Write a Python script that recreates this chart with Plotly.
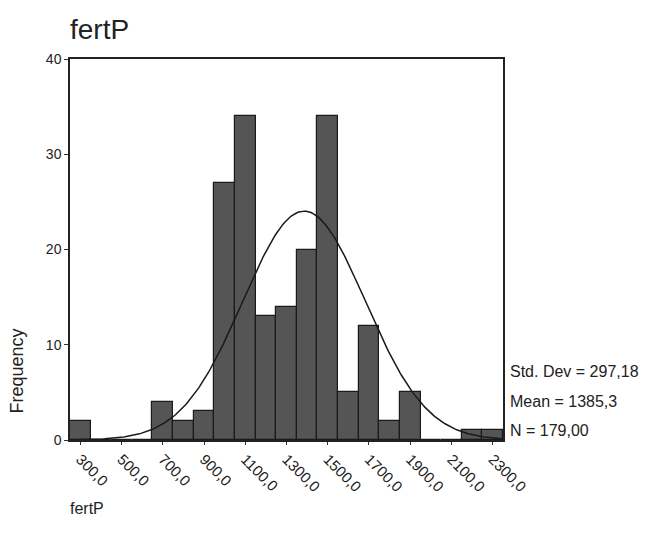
import numpy as np
import plotly.graph_objects as go

bin_centers = [300, 400, 500, 600, 700, 800, 900, 1000, 1100, 1200, 1300,
               1400, 1500, 1600, 1700, 1800, 1900, 2000, 2100, 2200, 2300]
counts = [2, 0, 0, 0, 4, 2, 3, 27, 34, 13, 14, 20, 34, 5, 12, 2, 5, 0, 0, 1, 1]
tick_vals = [300, 500, 700, 900, 1100, 1300, 1500, 1700, 1900, 2100, 2300]
tick_text = ["300,0", "500,0", "700,0", "900,0", "1100,0", "1300,0", "1500,0",
             "1700,0", "1900,0", "2100,0", "2300,0"]
std_dev = 297.18
mean = 1385.3
n = 179
bin_width = 100

xs = np.linspace(250, 2350, 300)
ys = n * bin_width / (std_dev * np.sqrt(2 * np.pi)) * np.exp(-0.5 * ((xs - mean) / std_dev) ** 2)

fig = go.Figure()
fig.add_trace(go.Bar(x=bin_centers, y=counts, width=bin_width,
                     marker=dict(color="#555555", line=dict(color="#1a1a1a", width=1.2)),
                     showlegend=False))
fig.add_trace(go.Scatter(x=xs, y=ys, mode="lines",
                         line=dict(color="#1a1a1a", width=1.5), showlegend=False))

font = "Liberation Sans, Arial, sans-serif"
fig.update_layout(
    width=645, height=540,
    margin=dict(l=70, r=142, t=59, b=100),
    paper_bgcolor="white", plot_bgcolor="white",
    bargap=0,
    font=dict(family=font, size=14, color="#222"),
    xaxis=dict(range=[250, 2350], tickvals=tick_vals, ticktext=tick_text,
               tickangle=45, ticks="outside", ticklen=3, tickcolor="#333",
               showline=True, linecolor="#222", linewidth=1.5, mirror=True,
               showgrid=False, zeroline=False, tickfont=dict(size=15)),
    yaxis=dict(range=[0, 40], tickvals=[0, 10, 20, 30, 40],
               ticks="outside", ticklen=4, tickcolor="#333",
               showline=True, linecolor="#222", linewidth=1.5, mirror=True,
               showgrid=False, zeroline=False, tickfont=dict(size=14)),
    annotations=[
        dict(text="fertP", xref="paper", yref="paper", x=-0.0, y=1.0,
             xanchor="left", yanchor="bottom", yshift=12, xshift=-2, showarrow=False,
             font=dict(size=28, family=font, color="#222")),
        dict(text="Frequency", xref="paper", yref="paper", x=0, y=0.18,
             xshift=-53, xanchor="center", yanchor="middle", textangle=-90,
             showarrow=False, font=dict(size=18, family=font, color="#222")),
        dict(text="fertP", xref="paper", yref="paper", x=0, y=0,
             xanchor="left", yanchor="middle", xshift=-2, yshift=-68,
             showarrow=False, font=dict(size=16, family=font, color="#222")),
        dict(text="Std. Dev = 297,18", xref="paper", yref="paper", x=1, y=0.179,
             xanchor="left", yanchor="middle", xshift=5, showarrow=False,
             font=dict(size=16, family=font, color="#222")),
        dict(text="Mean = 1385,3", xref="paper", yref="paper", x=1, y=0.102,
             xanchor="left", yanchor="middle", xshift=5, showarrow=False,
             font=dict(size=16, family=font, color="#222")),
        dict(text="N = 179,00", xref="paper", yref="paper", x=1, y=0.026,
             xanchor="left", yanchor="middle", xshift=5, showarrow=False,
             font=dict(size=16, family=font, color="#222")),
    ],
)

fig.write_html("out.html")
